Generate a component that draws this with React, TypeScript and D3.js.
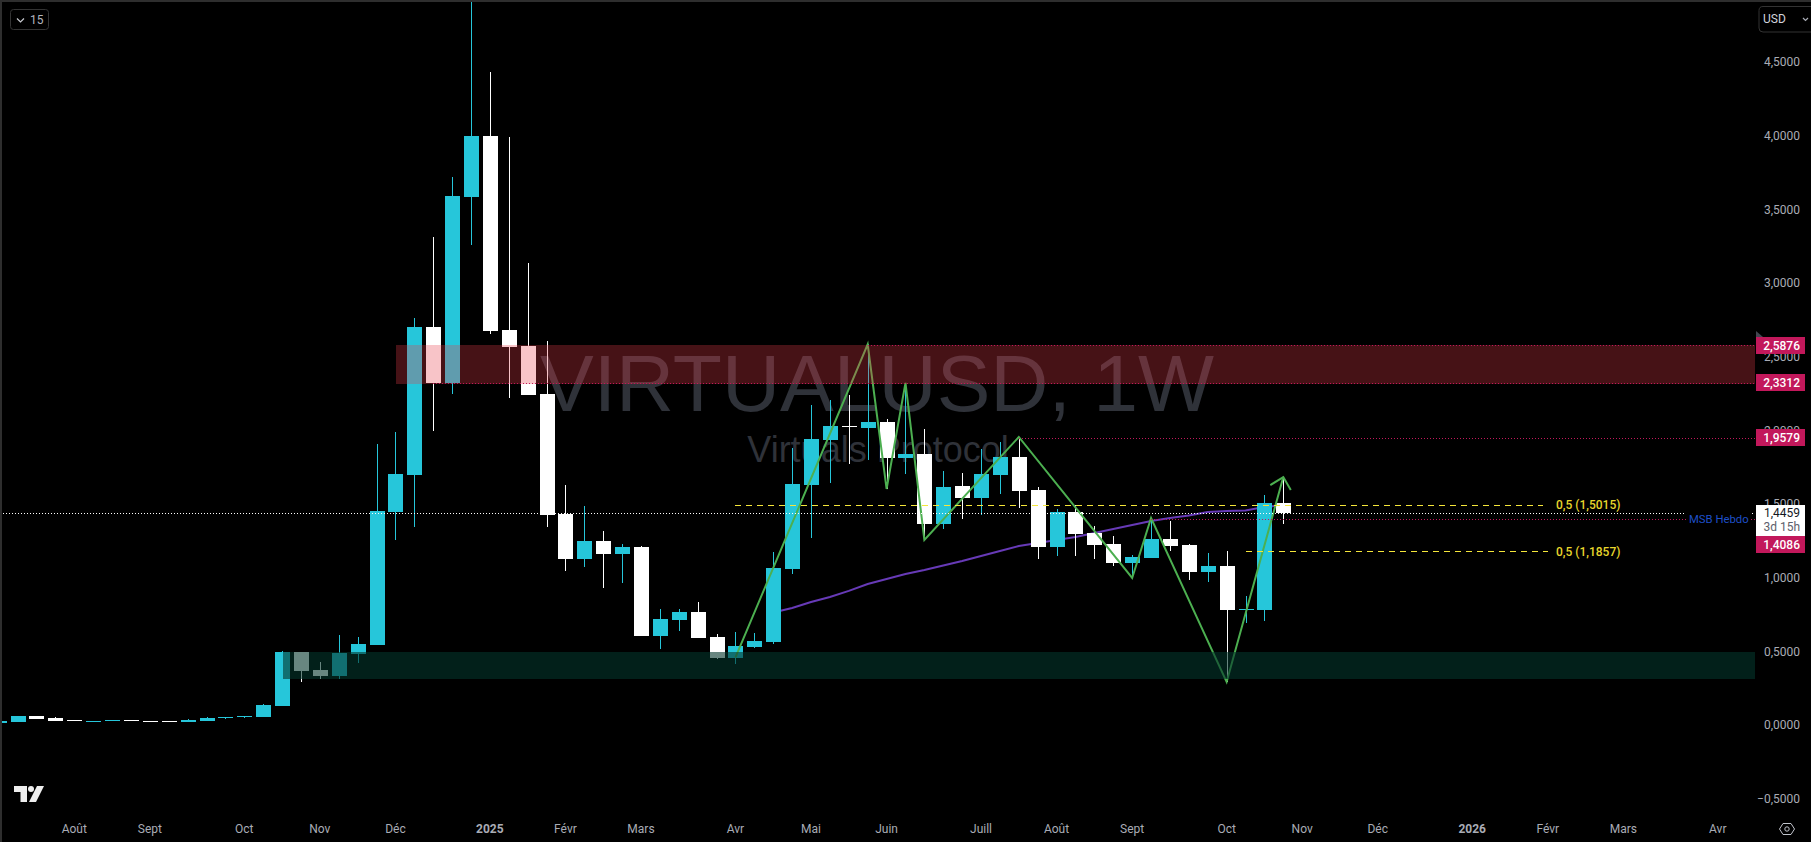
import React from "react";
import * as d3 from "d3";

const W = 1811, H = 842, PANE_R = 1755;
const up = [1,1,0,0,0,1,1,0,0,0,1,1,1,1,1,1,0,0,1,1,1,1,1,0,1,1,0,0,0,0,0,1,0,1,0,1,1,0,0,1,1,1,1,1,1,0,1,0,1,0,1,0,1,1,0,0,1,0,0,0,1,1,0,0,1,0,1,1,0];
const opens = [.020,.027,.068,.052,.041,.029,.034,.041,.034,.034,.027,.034,.054,.061,.061,.136,.502,.380,.339,.489,.550,1.453,1.704,2.709,2.331,3.591,4.005,2.688,2.580,2.254,1.439,1.134,1.256,1.168,1.215,.611,.720,.774,.604,.462,.536,.570,1.066,1.636,1.942,2.040,2.023,2.064,1.819,1.847,1.371,1.629,1.548,1.704,1.826,1.602,1.215,1.453,1.310,1.236,1.107,1.141,1.270,1.229,1.046,1.086,.788,.788,1.514];
const closes = [.034,.068,.048,.034,.034,.034,.041,.034,.027,.027,.041,.054,.061,.068,.143,.502,.373,.339,.496,.557,1.460,1.711,2.709,2.331,3.598,4.005,2.682,2.573,2.247,1.432,1.134,1.256,1.168,1.215,.611,.726,.774,.597,.462,.543,.577,1.073,1.643,1.948,2.037,2.033,2.064,1.819,1.847,1.371,1.623,1.548,1.711,1.826,1.595,1.215,1.453,1.303,1.229,1.107,1.147,1.270,1.222,1.046,1.086,.788,.791,1.514,1.4459];
const highs = [.034,.068,.068,.061,.041,.034,.041,.041,.034,.034,.048,.061,.061,.068,.149,.509,.502,.434,.618,.604,1.914,1.996,2.770,3.320,3.727,4.915,4.440,3.999,3.143,2.614,1.636,1.494,1.324,1.236,1.222,.794,.794,.842,.625,.638,.631,1.181,1.887,2.179,2.213,2.247,2.593,2.084,2.329,2.016,1.731,1.718,1.881,1.928,1.962,1.623,1.473,1.500,1.358,1.290,1.161,1.412,1.392,1.236,1.175,1.188,.883,1.568,1.690];
const lows = [.020,.027,.048,.034,.034,.029,.034,.034,.027,.027,.027,.034,.048,.054,.061,.136,.299,.319,.319,.428,.550,1.263,1.351,2.005,2.254,3.265,2.661,2.227,2.247,1.351,1.052,1.079,.937,.971,.611,.523,.645,.597,.455,.421,.530,.557,1.032,1.276,1.650,1.779,1.806,1.609,1.711,1.263,1.337,1.405,1.432,1.575,1.480,1.134,1.154,1.154,1.134,1.086,1.005,1.141,1.188,.991,.978,.299,.699,.713,1.371];

const maStart = 41;
const maValues = [.771,.801,.842,.876,.917,.964,.998,1.032,1.059,1.090,1.120,1.154,1.188,1.222,1.242,1.263,1.283,1.310,1.337,1.365,1.392,1.412,1.429,1.453,1.460,1.463,1.487,1.500];

const zigIdx = [39,46,47,48,49,54,60,61,65,68];
const zigVal = [.466,2.591,1.609,2.329,1.263,1.962,1.005,1.412,.299,1.690];

const priceTicks = [-0.5,0,0.5,1,1.5,2,2.5,3,3.5,4,4.5];
const timeIdx = [4,8,13,17,21,26,30,34,39,43,47,52,56,60,65,69,73,78,82,86,91];
const timeLabels = ["Août","Sept","Oct","Nov","Déc","2025","Févr","Mars","Avr","Mai","Juin","Juill","Août","Sept","Oct","Nov","Déc","2026","Févr","Mars","Avr"];
const timeBold = ["2025","2026"];

const levelVals = [2.5876,2.3312,1.9579,1.4086];
const levelStart = [46,23,54,61];
const levelTagY = [345.5,382.5,437.5,544.5];
const fibVals = [1.5015,1.1857];
const fibStart = [39,66];
const fibEndPx = [1543,1548];
const zoneRed = [2.5876,2.323];
const zoneGreen = [.502,.319];
const lastPrice = 1.4459;

const CYAN = "#26c6da", CRIM = "#c2185b", FONT = "Roboto, 'Liberation Sans', sans-serif";
const fmt = (v: number) => (v < 0 ? "−" : "") + Math.abs(v).toFixed(4).replace(".", ",");

export default function App() {
  const x = d3.scaleLinear().domain([0, 68]).range([-1.3, 1283.3]);
  const y = d3.scaleLinear().domain([-0.5, 4.5]).range([799.65, 63.15]);
  const wx = (i: number) => Math.round(x(i));
  const ma = d3.line<number>().x((_, i) => x(maStart + i)).y(d => y(d));
  const zig = d3.line<number>().x((_, i) => x(zigIdx[i])).y(d => y(d));
  const tipX = x(zigIdx[zigIdx.length - 1]), tipY = y(zigVal[zigVal.length - 1]);

  return (
    <svg width={W} height={H} viewBox={`0 0 ${W} ${H}`} style={{ position: "absolute", left: 0, top: 0, display: "block", background: "#000" }}>
      <rect width={W} height={H} fill="#000" />
      {/* watermark */}
      <text x={877} y={411} textAnchor="middle" fontFamily="'Liberation Sans', Arial, sans-serif" fontSize={80.5} fill="#2f3239">VIRTUALUSD, 1W</text>
      <text x={878} y={462} textAnchor="middle" fontFamily="'Liberation Sans', Arial, sans-serif" fontSize={36} fill="#2f3239">Virtuals Protocol</text>

      {/* MA */}
      <path d={ma(maValues) || ""} fill="none" stroke="#673ab7" strokeWidth={2} />

      {/* candles */}
      <g shapeRendering="crispEdges">
        {up.map((u, i) => {
          const c = u ? CYAN : "#ffffff";
          const top = Math.round(y(Math.max(opens[i], closes[i])));
          const bot = Math.round(y(Math.min(opens[i], closes[i])));
          const hi = Math.max(2, Math.round(y(highs[i])));
          const lo = Math.round(y(lows[i]));
          return (
            <g key={i}>
              <rect x={wx(i)} y={hi} width={1} height={Math.max(lo - hi, 1)} fill={c} />
              <rect x={wx(i) - 7} y={top} width={15} height={Math.max(bot - top, 1)} fill={c} />
            </g>
          );
        })}
      </g>

      {/* zigzag */}
      <path d={zig(zigVal) || ""} fill="none" stroke="#4caf50" strokeWidth={2} strokeLinejoin="miter" />
      <path d={`M${tipX - 13},${tipY + 8}L${tipX},${tipY}L${tipX + 7.5},${tipY + 13}`} fill="none" stroke="#4caf50" strokeWidth={2} />

      {/* zones */}
      <g shapeRendering="crispEdges">
        <rect x={396} y={y(zoneRed[0])} width={PANE_R - 396} height={y(zoneRed[1]) - y(zoneRed[0])} fill="rgb(233,60,73)" fillOpacity={0.3} />
        <rect x={283} y={y(zoneGreen[0])} width={PANE_R - 283} height={y(zoneGreen[1]) - y(zoneGreen[0])} fill="rgb(3,53,43)" fillOpacity={0.6} />
      </g>

      {/* level lines */}
      <g shapeRendering="crispEdges">
        <line x1={0} x2={PANE_R} y1={Math.round(y(lastPrice)) + 0.5} y2={Math.round(y(lastPrice)) + 0.5} stroke="#fff" strokeDasharray="1 2" />
        {levelVals.map((v, i) => (
          <line key={i} x1={wx(levelStart[i])} x2={PANE_R} y1={Math.round(y(v)) + 0.5} y2={Math.round(y(v)) + 0.5} stroke={CRIM} strokeDasharray="1 2" />
        ))}
        {fibVals.map((v, i) => (
          <line key={i} x1={x(fibStart[i])} x2={fibEndPx[i]} y1={Math.round(y(v)) + 0.5} y2={Math.round(y(v)) + 0.5} stroke="#f5e63a" strokeDasharray="6 5" />
        ))}
      </g>
      {fibVals.map((v, i) => (
        <text key={i} x={1556} y={y(v)} dy="0.36em" fontFamily={FONT} fontSize={12} fontWeight={500} fill="#e8d62c">{`0,5 (${v.toFixed(4).replace(".", ",")})`}</text>
      ))}
      <rect x={1686} y={510} width={64} height={17} fill="#000" />
      <text x={1689} y={y(levelVals[3])} dy="0.36em" fontFamily={FONT} fontSize={11.3} fill="#1e4fc8">MSB Hebdo</text>

      {/* price axis */}
      {priceTicks.map(t => (
        <text key={t} x={1800} y={y(t) - 1} dy="0.36em" textAnchor="end" fontFamily={FONT} fontSize={12} fill="#a9acb5">{fmt(t)}</text>
      ))}
      <path d="M1756,331L1763,337L1756,342Z" fill="#434651" />
      {levelVals.map((v, i) => (
        <g key={i}>
          <rect x={1756} y={levelTagY[i] - 8.5} width={49} height={17} fill={CRIM} />
          <text x={1800} y={levelTagY[i]} dy="0.36em" textAnchor="end" fontFamily={FONT} fontSize={12} fontWeight={500} fill="#fff">{fmt(v)}</text>
        </g>
      ))}
      <rect x={1756} y={505} width={49} height={31} fill="#fff" />
      <text x={1800} y={512.5} dy="0.36em" textAnchor="end" fontFamily={FONT} fontSize={12} fill="#131722">{fmt(lastPrice)}</text>
      <text x={1800} y={527} dy="0.36em" textAnchor="end" fontFamily={FONT} fontSize={12} fill="#5d606b">3d 15h</text>

      {/* time axis */}
      {timeLabels.map((t, i) => (
        <text key={i} x={x(timeIdx[i])} y={829} dy="0.36em" textAnchor="middle" fontFamily={FONT} fontSize={12} fontWeight={timeBold.includes(t) ? 700 : 400} fill="#a9acb5">{t}</text>
      ))}

      {/* chrome */}
      <rect x={0} y={0} width={W} height={2} fill="#2e2e2e" />
      <rect x={0} y={0} width={2} height={H} fill="#2e2e2e" />
      <rect x={10.5} y={9.5} width={38} height={20} rx={3} fill="#000" stroke="#333" />
      <path d="M17,18.5L20.5,22L24,18.5" fill="none" stroke="#c8cad0" strokeWidth={1.2} />
      <text x={30} y={20} dy="0.36em" fontFamily={FONT} fontSize={12} fill="#b2b5be">15</text>
      <path d="M1811,6.5H1763a4,4 0 0 0 -4,4V28a4,4 0 0 0 4,4H1811" fill="#000" stroke="#333" />
      <text x={1763} y={19} dy="0.36em" fontFamily={FONT} fontSize={12} fill="#d1d4dc">USD</text>
      <path d="M1803,18L1805.5,20.5L1808,18" fill="none" stroke="#a9acb5" strokeWidth={1.2} />
      {/* logo */}
      <path d="M14,786H27V802H20.5V792H14Z" fill="#eee" />
      <circle cx={31} cy={789} r={3} fill="#eee" />
      <path d="M37,786H44L36,802H29Z" fill="#eee" />
      {/* settings */}
      <path d="M1779.5,829L1783,823.5H1791L1794.5,829L1791,834.5H1783Z" fill="none" stroke="#c0c3cb" />
      <circle cx={1787} cy={829} r={2.2} fill="none" stroke="#c0c3cb" />
    </svg>
  );
}
